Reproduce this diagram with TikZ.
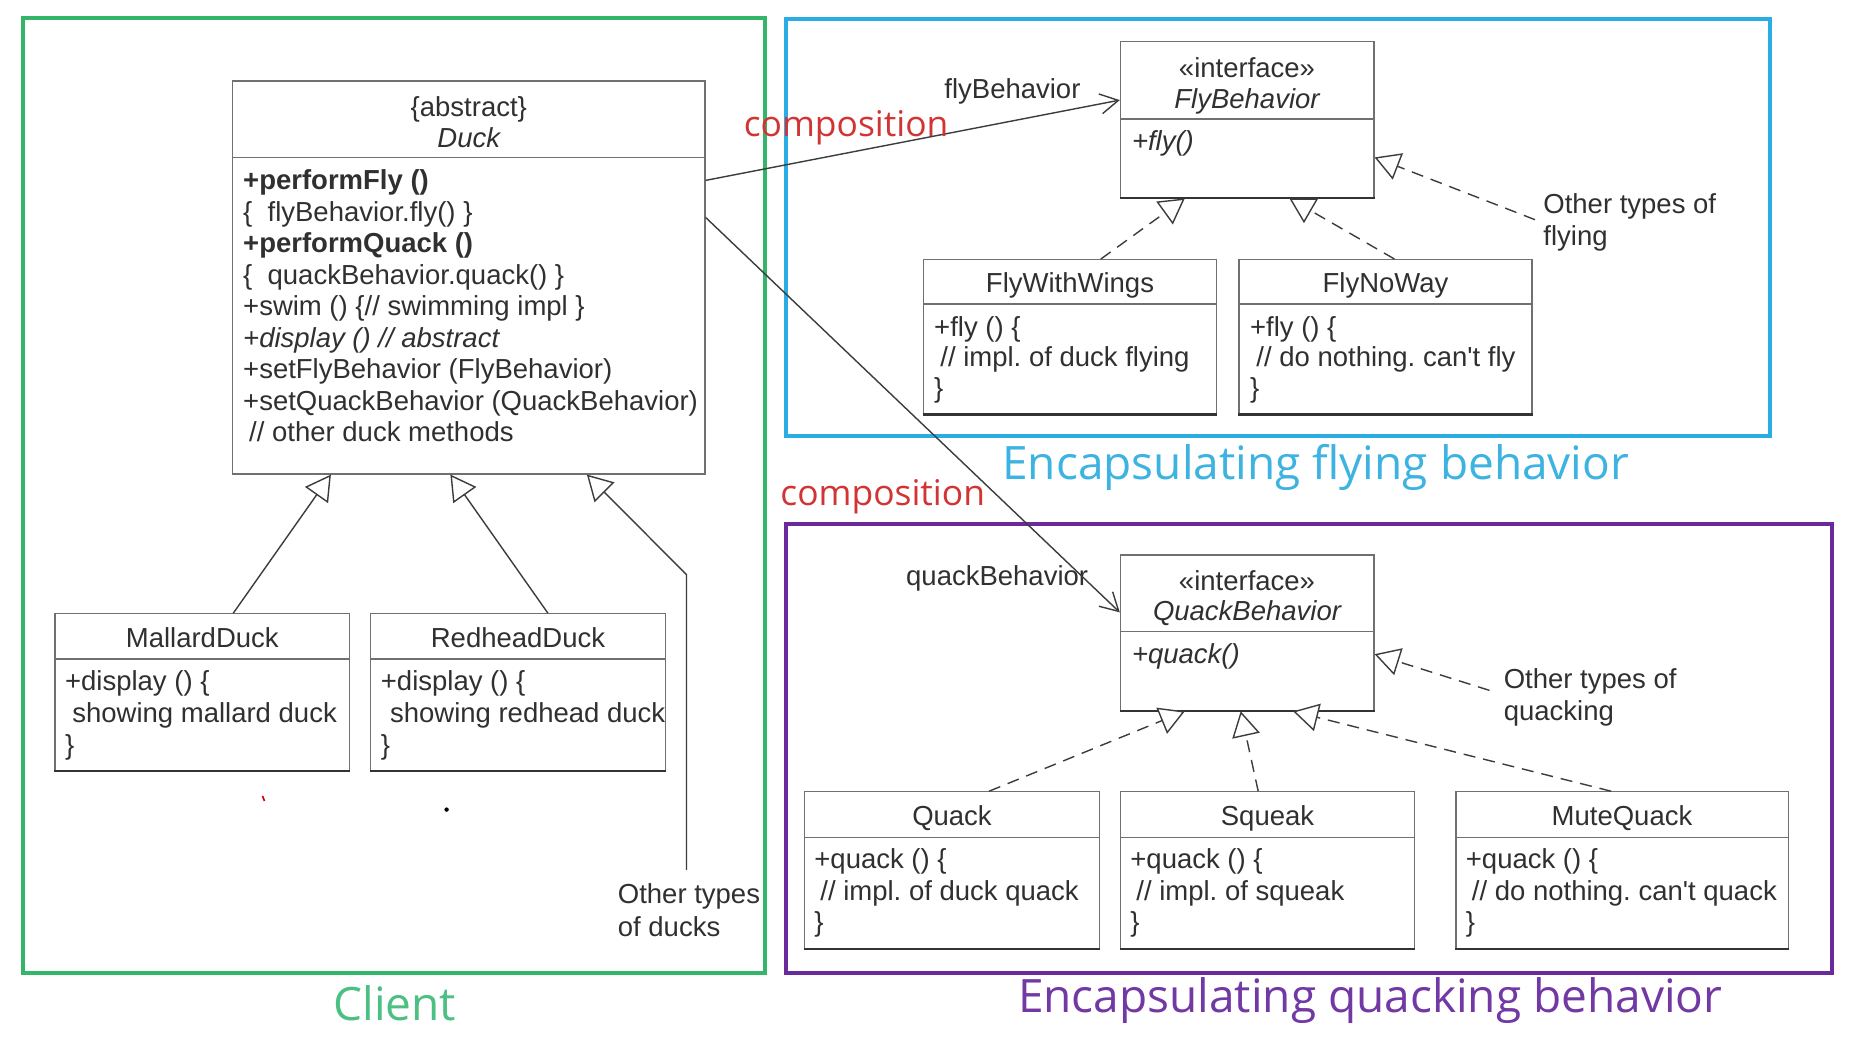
\documentclass[tikz,border=0pt]{standalone}
\usepackage{fontspec}
\setmainfont{Liberation Sans}
\newfontfamily\bigfont{Open Sans}
\usetikzlibrary{arrows.meta,fit,calc}
\definecolor{clientgreen}{HTML}{33B56A}
\definecolor{clienttext}{HTML}{4CC083}
\definecolor{flyblue}{HTML}{2AADE4}
\definecolor{flytext}{HTML}{3DB3E2}
\definecolor{quackpurple}{HTML}{6A2A9C}
\definecolor{quacktext}{HTML}{7238A4}
\definecolor{compred}{HTML}{D23434}
\definecolor{umlgray}{HTML}{707070}
\definecolor{umltext}{HTML}{303030}
\definecolor{linegray}{HTML}{3C3C3C}
\frenchspacing
\begin{document}
\begin{tikzpicture}[x=0.5pt,y=-0.5pt,
  umlbox/.style={draw=umlgray, line width=0.6pt, fill=white, inner sep=0pt},
  sepline/.style={draw=umlgray, line width=0.6pt},
  bottomedge/.style={draw=black!80, line width=1.1pt},
  umltxt/.style={inner sep=0pt, anchor=base west, text=umltext, font=\fontsize{13.75}{16}\selectfont},
  umltitle/.style={inner sep=0pt, anchor=base, text=umltext, font=\fontsize{13.75}{16}\selectfont},
  gen/.style={draw=linegray, line width=0.7pt, -{Triangle[open, length=12.5pt, width=14pt, fill=white]}},
  real/.style={gen, dash pattern=on 6pt off 4pt},
  comp/.style={draw=linegray, line width=0.7pt, -{Straight Barb[length=9pt, width=10pt]}},
  frame/.style={inner sep=0pt, line width=2pt},
  bigtxt/.style={inner sep=0pt, anchor=base west, font=\bigfont\fontsize{23}{26}\selectfont},
  comptxt/.style={inner sep=0pt, anchor=base west, text=compred, font=\bigfont\fontsize{17.7}{20}\selectfont},
]
\useasboundingbox (0,0) rectangle (1876,1058);
\fill[white] (0,0) rectangle (1876,1058);

% frames
\node[frame, draw=clientgreen, fit={(22.8,17.6) (765,973)}] (clientframe) {};
\node[frame, draw=flyblue, fit={(785.6,18.6) (1769.7,436)}] (flyframe) {};
\node[frame, draw=quackpurple, fit={(785.6,524.2) (1832,972.6)}] (quackframe) {};

% Duck
\node[umlbox, fit={(232.6,81) (705,474)}] (duck) {};
\draw[sepline] (232.6,157.5) -- (705,157.5);
\node[umltitle] (duckst) at (468.8,117) {\{abstract\}};
\node[umltitle] (duckname) at (468.8,148) {\itshape Duck};
\node[umltxt] (d1) at (242.8,190) {\bfseries +performFly ()};
\node[umltxt] (d2) at (242.8,221.5) {\{\ \ flyBehavior.fly() \}};
\node[umltxt] (d3) at (242.8,253) {\bfseries +performQuack ()};
\node[umltxt] (d4) at (242.8,284.5) {\{\ \ quackBehavior.quack() \}};
\node[umltxt] (d5) at (242.8,316) {+swim () \{// swimming impl \}};
\node[umltxt] (d6) at (242.8,347.5) {\itshape +display () // abstract};
\node[umltxt] (d7) at (242.8,379) {+setFlyBehavior (FlyBehavior)};
\node[umltxt] (d8) at (242.8,410.5) {+setQuackBehavior (QuackBehavior)};
\node[umltxt] (d9) at (248.8,442) {// other duck methods};

% MallardDuck
\node[umlbox, fit={(55,613.9) (349.5,770.5)}] (mallard) {};
\draw[sepline] (55,659) -- (349.5,659);
\draw[bottomedge] (mallard.south west) -- (mallard.south east);
\node[umltitle] (mallardt) at (202.3,648) {MallardDuck};
\node[umltxt] (m1) at (64.7,690.5) {+display () \{};
\node[umltxt] (m2) at (72,722.5) {showing mallard duck};
\node[umltxt] (m3) at (64.7,754.5) {\}};

% RedheadDuck
\node[umlbox, fit={(370.5,613.9) (665.5,770.5)}] (redhead) {};
\draw[sepline] (370.5,659) -- (665.5,659);
\draw[bottomedge] (redhead.south west) -- (redhead.south east);
\node[umltitle] (redheadt) at (518,648) {RedheadDuck};
\node[umltxt] (r1) at (380.5,690.5) {+display () \{};
\node[umltxt] (r2) at (389.7,722.5) {showing redhead duck};
\node[umltxt] (r3) at (380.5,754.5) {\}};

\node[umltxt] (othd1) at (617.5,904) {Other types};
\node[umltxt] (othd2) at (617.5,936) {of ducks};
\coordinate (othduck) at (686.5,870);

% FlyBehavior
\node[umlbox, fit={(1120.4,41.2) (1374,197.8)}] (flyb) {};
\draw[sepline] (1120.4,119) -- (1374,119);
\draw[bottomedge] (flyb.south west) -- (flyb.south east);
\node[umltitle] (flybst) at (1247,78) {«interface»};
\node[umltitle] (flybname) at (1247,108.5) {\itshape FlyBehavior};
\node[umltxt] (flyb1) at (1131.6,151) {\itshape +fly()};

% FlyWithWings
\node[umlbox, fit={(923.3,259.6) (1216.8,414)}] (fww) {};
\draw[sepline] (923.3,304) -- (1216.8,304);
\draw[bottomedge] (fww.south west) -- (fww.south east);
\node[umltitle] (fwwt) at (1070,293) {FlyWithWings};
\node[umltxt] (fww1) at (933.8,337) {+fly () \{};
\node[umltxt] (fww2) at (940,367) {// impl. of duck flying};
\node[umltxt] (fww3) at (933.8,398) {\}};

% FlyNoWay
\node[umlbox, fit={(1239,259.6) (1532,414)}] (fnw) {};
\draw[sepline] (1239,304) -- (1532,304);
\draw[bottomedge] (fnw.south west) -- (fnw.south east);
\node[umltitle] (fnwt) at (1385.5,293) {FlyNoWay};
\node[umltxt] (fnw1) at (1249.7,337) {+fly () \{};
\node[umltxt] (fnw2) at (1256,367) {// do nothing. can\textquotesingle t fly};
\node[umltxt] (fnw3) at (1249.7,398) {\}};

\node[umltxt] (othf1) at (1543,213.5) {Other types of};
\node[umltxt] (othf2) at (1543,245.5) {flying};
\coordinate (othfly) at (1535,219.7);

% QuackBehavior
\node[umlbox, fit={(1120.4,555) (1374,710.7)}] (quackb) {};
\draw[sepline] (1120.4,631.7) -- (1374,631.7);
\draw[bottomedge] (quackb.south west) -- (quackb.south east);
\node[umltitle] (quackbst) at (1247,591) {«interface»};
\node[umltitle] (quackbname) at (1247,621) {\itshape QuackBehavior};
\node[umltxt] (quackb1) at (1131.6,664) {\itshape +quack()};

% Quack
\node[umlbox, fit={(804.5,791.8) (1099.4,948.4)}] (quack) {};
\draw[sepline] (804.5,837.4) -- (1099.4,837.4);
\draw[bottomedge] (quack.south west) -- (quack.south east);
\node[umltitle] (quackt) at (952,826) {Quack};
\node[umltxt] (q1) at (814,868.5) {+quack () \{};
\node[umltxt] (q2) at (820,900) {// impl. of duck quack};
\node[umltxt] (q3) at (814,932) {\}};

% Squeak
\node[umlbox, fit={(1120.4,791.8) (1414.6,948.4)}] (squeak) {};
\draw[sepline] (1120.4,837.4) -- (1414.6,837.4);
\draw[bottomedge] (squeak.south west) -- (squeak.south east);
\node[umltitle] (squeakt) at (1267.5,826) {Squeak};
\node[umltxt] (s1) at (1130,868.5) {+quack () \{};
\node[umltxt] (s2) at (1136,900) {// impl. of squeak};
\node[umltxt] (s3) at (1130,932) {\}};

% MuteQuack
\node[umlbox, fit={(1455.9,791.8) (1788.6,948.4)}] (mute) {};
\draw[sepline] (1455.9,837.4) -- (1788.6,837.4);
\draw[bottomedge] (mute.south west) -- (mute.south east);
\node[umltitle] (mutet) at (1622,826) {MuteQuack};
\node[umltxt] (mq1) at (1465.5,868.5) {+quack () \{};
\node[umltxt] (mq2) at (1471.5,900) {// do nothing. can\textquotesingle t quack};
\node[umltxt] (mq3) at (1465.5,932) {\}};

\node[umltxt] (othq1) at (1503.4,689) {Other types of};
\node[umltxt] (othq2) at (1503.4,721) {quacking};
\coordinate (othquack) at (1489.5,690.4);

% labels of compositions
\node[umltxt] (flylabel) at (944,99) {flyBehavior};
\node[umltxt] (quacklabel) at (905.8,586) {quackBehavior};

% connectors: generalization
\draw[gen] ($(mallard.north west)+(178.8,0)$) -- ($(duck.south west)+(98.9,0)$);
\draw[gen] ($(redhead.north west)+(178.1,0)$) -- ($(duck.south west)+(218.4,0)$);
\draw[gen] (othduck) -- ($(othduck)+(0,-295.3)$) -- ($(duck.south west)+(354.9,0)$);

% realization
\draw[real] ($(fww.north west)+(178.2,0)$) -- ($(flyb.south west)+(65,0)$);
\draw[real] ($(fnw.north west)+(156,0)$) -- ($(flyb.south west)+(169.6,0)$);
\draw[real] (othfly) -- ($(flyb.north east)+(0,116.8)$);
\draw[real] ($(quack.north west)+(185.2,0)$) -- ($(quackb.south west)+(65,0)$);
\draw[real] ($(squeak.north west)+(138.4,0)$) -- ($(quackb.south west)+(120.9,0)$);
\draw[real] ($(mute.north west)+(155.8,0)$) -- ($(quackb.south west)+(173.3,0)$);
\draw[real] (othquack) -- ($(quackb.north east)+(0,99.8)$);

% composition
\draw[comp] ($(duck.north east)+(0,100)$) -- ($(flyb.north west)+(0,59.5)$);
\draw[comp] ($(duck.north east)+(0,137)$) -- ($(quackb.north west)+(0,58)$);

\node[comptxt] (comp1) at (743.4,137) {composition};
\node[comptxt] (comp2) at (780,506) {composition};

% big captions
\node[bigtxt, text=clienttext] (clientlbl) at (333,1021) {Client};
\node[bigtxt, text=flytext] (flylbl) at (1002,480) {Encapsulating flying behavior};
\node[bigtxt, text=quacktext] (quacklbl) at (1017.6,1012.5) {Encapsulating quacking behavior};

% stray marks
\draw[red!80!black, line width=0.8pt] (262.5,796) -- (264.5,801);
\fill[black] (446.6,809.6) circle[radius=2.2];
\end{tikzpicture}
\end{document}
